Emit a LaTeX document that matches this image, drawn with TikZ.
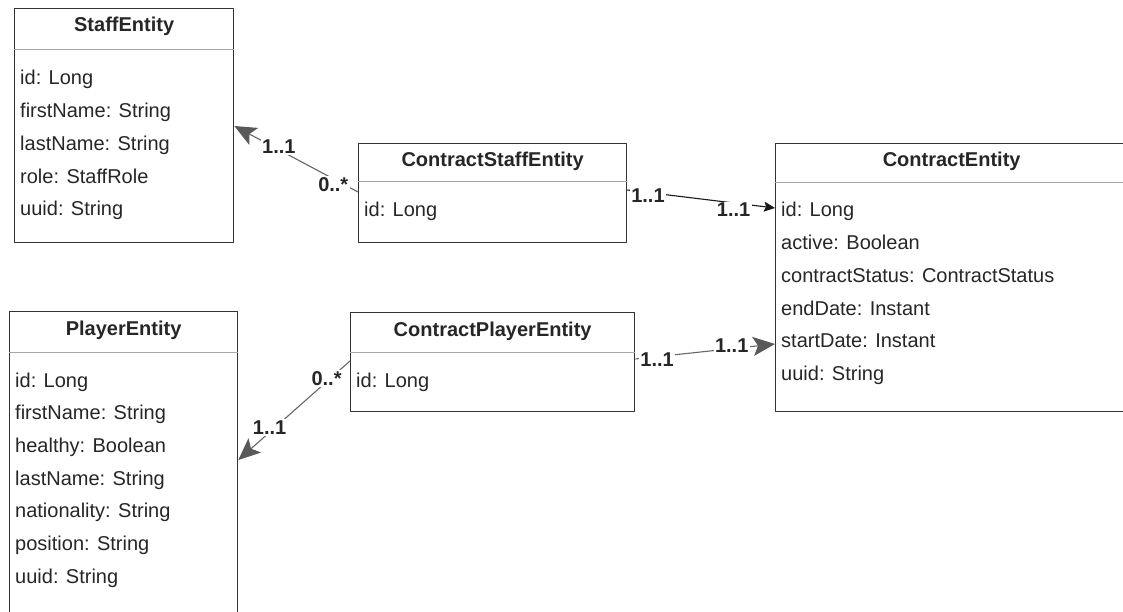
\documentclass[tikz,border=0pt]{standalone}
\usepackage{fontspec}
\setmainfont{Liberation Sans}
\usetikzlibrary{arrows.meta}
\begin{document}
\begin{tikzpicture}[x=1pt,y=-1pt,line join=round,font=\fontsize{20}{24}\selectfont,
	box/.style={draw=black!80,line width=1.3pt,anchor=north west,inner sep=0pt},
	cname/.style={anchor=base,inner sep=0pt,font=\fontsize{20}{24}\selectfont\bfseries,text=black!85},
	attr/.style={anchor=base west,inner sep=0pt,text=black!85},
	hdrline/.style={draw=black!35,line width=1pt},
	mult/.style={fill=white,inner sep=1.5pt,font=\fontsize{20}{24}\selectfont\bfseries,text=black!85},
	assoc/.style={black!60,line width=1.1pt,-{Stealth[length=22pt,width=19pt,inset=5pt,fill=black!65,color=black!65]}},
	link/.style={black!90,line width=1.1pt,-{Stealth[length=11pt,width=10pt,inset=2pt]}}]
			\clip (0,0) rectangle (1123,612);
			\node[box,minimum width=219pt,minimum height=234pt] (se) at (14,8) {};
			\node[cname] (set) at ([yshift=-24pt]se.north) {StaffEntity};
			\draw[hdrline] ([yshift=-42pt]se.north west) -- ([yshift=-42pt]se.north east);
			\foreach \t [count=\i from 0] in {id: Long,firstName: String,lastName: String,role: StaffRole,uuid: String}
				\node[attr] (se\i) at ([xshift=6pt,yshift={-77pt-32.7pt*\i}]se.north west) {\t};
			\node[box,minimum width=268pt,minimum height=99pt] (cse) at (358,143) {};
			\node[cname] (cset) at ([yshift=-24pt]cse.north) {ContractStaffEntity};
			\draw[hdrline] ([yshift=-39pt]cse.north west) -- ([yshift=-39pt]cse.north east);
			\node[attr] (cse0) at ([xshift=6pt,yshift=-74pt]cse.north west) {id: Long};
			\node[box,minimum width=352pt,minimum height=268pt] (ce) at (775,143) {};
			\node[cname] (cet) at ([yshift=-24pt]ce.north) {ContractEntity};
			\draw[hdrline] ([yshift=-40pt]ce.north west) -- ([yshift=-40pt]ce.north east);
			\foreach \t [count=\i from 0] in {id: Long,active: Boolean,contractStatus: ContractStatus,endDate: Instant,startDate: Instant,uuid: String}
				\node[attr] (ce\i) at ([xshift=6pt,yshift={-74pt-32.7pt*\i}]ce.north west) {\t};
			\node[box,minimum width=228pt,minimum height=330pt] (pe) at (9,311) {};
			\node[cname] (pet) at ([yshift=-24pt]pe.north) {PlayerEntity};
			\draw[hdrline] ([yshift=-41pt]pe.north west) -- ([yshift=-41pt]pe.north east);
			\foreach \t [count=\i from 0] in {id: Long,firstName: String,healthy: Boolean,lastName: String,nationality: String,position: String,uuid: String}
				\node[attr] (pe\i) at ([xshift=6pt,yshift={-76pt-32.7pt*\i}]pe.north west) {\t};
			\node[box,minimum width=284pt,minimum height=99pt] (cpe) at (350,312) {};
			\node[cname] (cpet) at ([yshift=-24pt]cpe.north) {ContractPlayerEntity};
			\draw[hdrline] ([yshift=-40pt]cpe.north west) -- ([yshift=-40pt]cpe.north east);
			\node[attr] (cpe0) at ([xshift=6pt,yshift=-75pt]cpe.north west) {id: Long};
			\draw[assoc] ([yshift=-49pt]cse.north west) -- node[mult,pos=.2,yshift=-6pt] (m1) {0..*} node[mult,pos=.64,yshift=3pt] (m2) {1..1} ([yshift=-118pt]se.north east);
			\draw[link] ([yshift=-47pt]cse.north east) -- node[mult,pos=.14,yshift=-3.5pt] (m3) {1..1} node[mult,pos=.72,yshift=-7pt] (m4) {1..1} ([yshift=-65pt]ce.north west);
			\draw[assoc] ([yshift=-47pt]cpe.north east) -- node[mult,pos=.156,yshift=-2.5pt] (m5) {1..1} node[mult,pos=.69,yshift=3.5pt] (m6) {1..1} ([yshift=-201pt]ce.north west);
			\draw[assoc] ([yshift=-49pt]cpe.north west) -- node[mult,pos=.21,yshift=3pt] (m7) {0..*} node[mult,pos=.72,yshift=5pt] (m8) {1..1} ([yshift=-149pt]pe.north east);
\end{tikzpicture}
\end{document}
